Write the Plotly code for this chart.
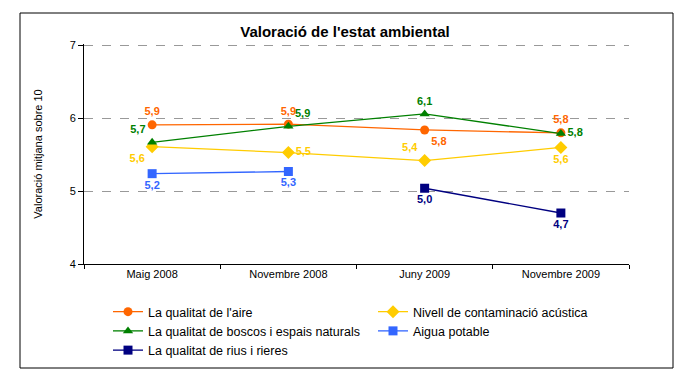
import plotly.graph_objects as go

categories = ["Maig 2008", "Novembre 2008", "Juny 2009", "Novembre 2009"]
aire = [5.91, 5.92, 5.84, 5.80]
acustica = [5.61, 5.53, 5.42, 5.60]
boscos = [5.67, 5.89, 6.06, 5.79]
aigua = [5.24, 5.27, None, None]
rius = [None, None, 5.04, 4.70]
yticks = [4, 5, 6, 7]

def labels(vals):
    return ["" if v is None else f"{v:.1f}".replace(".", ",") for v in vals]

series = [
    ("La qualitat de l'aire", aire, "#FF6600", "circle",
     ["top center", "top center", "bottom right", "top center"]),
    ("Nivell de contaminació acústica", acustica, "#FFCC00", "diamond",
     ["bottom left", "middle right", "top left", "bottom center"]),
    ("La qualitat de boscos i espais naturals", boscos, "#008000", "triangle-up",
     ["top left", "top right", "top center", "middle right"]),
    ("Aigua potable", aigua, "#3366FF", "square",
     ["bottom center"] * 4),
    ("La qualitat de rius i rieres", rius, "#000080", "square",
     ["bottom center"] * 4),
]

fig = go.Figure()
for name, vals, color, sym, pos in series:
    fig.add_trace(go.Scatter(
        x=categories, y=vals, name=name, mode="lines+markers+text",
        line=dict(color=color, width=1.3),
        marker=dict(color=color, symbol=sym, size=9 if sym != "diamond" else 10),
        text=labels(vals), textposition=pos,
        textfont=dict(color=color, size=11, family="Liberation Sans", weight="bold"),
        connectgaps=False,
    ))

# page body has an 8px margin, so figure coords = page coords - 8
W, H = 677, 368
L, R, T, B = 76, 56, 36, 112
pw, ph = W - L - R, H - T - B

fig.update_layout(
    width=W, height=H,
    margin=dict(l=L, r=R, t=T, b=B, autoexpand=False),
    paper_bgcolor="white", plot_bgcolor="white",
    font=dict(family="Liberation Sans", size=11, color="black"),
    title=dict(text="<b>Valoració de l'estat ambiental</b>", x=(337 - L) / pw, xref="paper",
               xanchor="center", y=1 - 24 / H, yanchor="middle",
               font=dict(size=15, family="Liberation Sans", color="black")),
    showlegend=True,
    legend=dict(orientation="h", x=(100 - L) / pw, xanchor="left", y=-(289 - (T + ph)) / ph,
                yanchor="top", entrywidth=220, entrywidthmode="pixels", tracegroupgap=0,
                font=dict(size=12.5, family="Liberation Sans"), itemwidth=30,
                bgcolor="rgba(0,0,0,0)"),
    shapes=[dict(type="rect", xref="paper", yref="paper",
                 x0=(12 - L) / pw, x1=(665 - L) / pw,
                 y0=(T + ph - 360) / ph, y1=(T + ph - 5) / ph,
                 line=dict(color="black", width=1), fillcolor="rgba(0,0,0,0)", layer="below")],
)
fig.update_xaxes(type="category", showline=True, linecolor="black", linewidth=1,
                 ticks="outside", tickson="boundaries", ticklen=4, tickcolor="black",
                 showgrid=False, tickfont=dict(size=11), range=[-0.5, 3.5], automargin=False)
fig.update_yaxes(range=[4, 7.02], tickvals=yticks, showline=True, linecolor="black", linewidth=1,
                 ticks="outside", ticklen=5, tickcolor="black",
                 showgrid=True, gridcolor="#999999", griddash="dash", gridwidth=1,
                 zeroline=False, tickfont=dict(size=11), automargin=False,
                 title=dict(text="Valoració mitjana sobre 10", font=dict(size=11), standoff=24))

fig.write_html("out.html")
